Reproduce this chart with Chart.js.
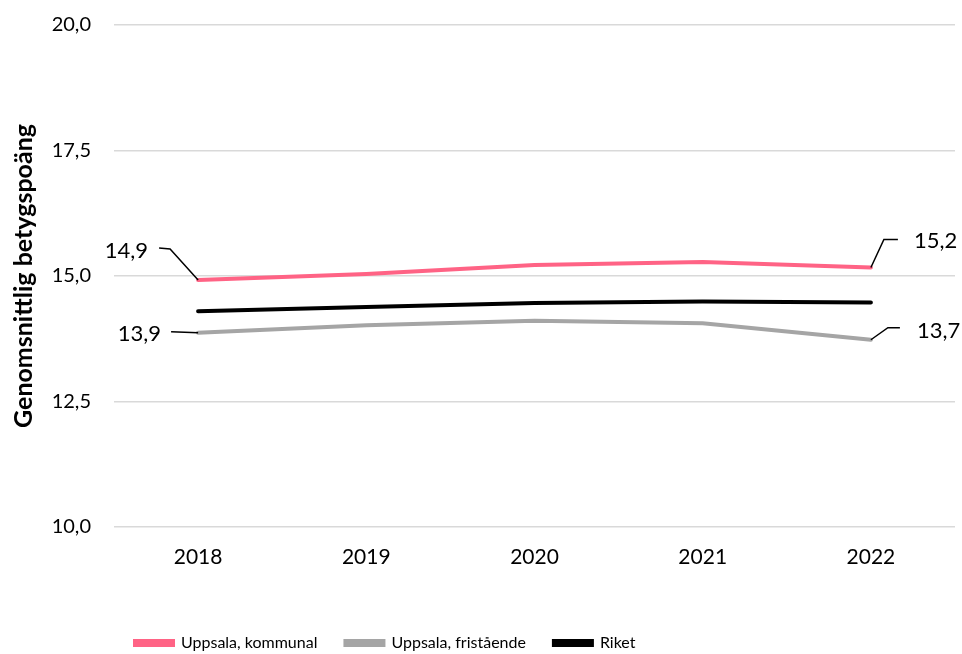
<!DOCTYPE html>
<html>
<head>
<meta charset="utf-8">
<script src="https://cdn.jsdelivr.net/npm/chart.js@4.4.0/dist/chart.umd.min.js"></script>
<style>
  html, body { margin: 0; padding: 0; background: #fff; }
  #wrap { width: 962px; height: 654px; }
</style>
</head>
<body>
<div id="wrap"><canvas id="chart"></canvas></div>
<script>
const years = ['2018', '2019', '2020', '2021', '2022'];
const kommunal = [14.92, 15.04, 15.22, 15.28, 15.17];
const fristaende = [13.87, 14.02, 14.11, 14.06, 13.73];
const riket = [14.30, 14.38, 14.46, 14.49, 14.47];
const seriesNames = ['Uppsala, kommunal', 'Uppsala, fristående', 'Riket'];
const seriesColors = ['#FF6385', '#A5A5A5', '#000000'];
const yTicks = [10, 12.5, 15, 17.5, 20];
const yTitle = 'Genomsnittlig betygspoäng';

// value labels: [datasetIndex, pointIndex]
const labelledPoints = [[0, 0], [1, 0], [0, 4], [1, 4]];

const FONT = 'Lato, "Open Sans", sans-serif';
const fmt = v => v.toFixed(1).replace('.', ',');

// leader line: point -> elbow -> end, then the text (offsets in px from the point)
const calloutStyle = [
    {ex: -28, ey: -31, lx: -39, ly: -32, tx: -50, ty: -29, align: 'right'},
    {ex: -27, ey: -1, lx: -27, ly: -1, tx: -37, ty: 1, align: 'right'},
    {ex: 13, ey: -28, lx: 27, ly: -28, tx: 43, ty: -27, align: 'left'},
    {ex: 17, ey: -12, lx: 29, ly: -12, tx: 46, ty: -9, align: 'left'}
];

const callouts = {
    id: 'callouts',
    afterDatasetsDraw(chart) {
        const ctx = chart.ctx;
        ctx.save();
        ctx.strokeStyle = '#000';
        ctx.lineWidth = 1.5;
        ctx.fillStyle = '#000';
        ctx.font = '22px ' + FONT;
        ctx.textBaseline = 'middle';
        labelledPoints.forEach(([ds, idx], i) => {
            const pt = chart.getDatasetMeta(ds).data[idx];
            const s = calloutStyle[i];
            ctx.beginPath();
            ctx.moveTo(pt.x, pt.y);
            ctx.lineTo(pt.x + s.ex, pt.y + s.ey);
            ctx.lineTo(pt.x + s.lx, pt.y + s.ly);
            ctx.stroke();
            ctx.textAlign = s.align;
            ctx.fillText(fmt(chart.data.datasets[ds].data[idx]), pt.x + s.tx, pt.y + s.ty);
        });
        ctx.restore();
    }
};

// move the legend row to where the original has it
const legendPlace = {
    id: 'legendPlace',
    afterLayout(chart) {
        const lg = chart.legend;
        lg.left = 135 - lg.options.labels.padding;
        lg.top += 7;
    }
};

const datasets = [kommunal, fristaende, riket].map((d, i) => ({
    label: seriesNames[i],
    data: d,
    borderColor: seriesColors[i],
    backgroundColor: seriesColors[i],
    borderWidth: 4,
    borderCapStyle: 'round',
    pointRadius: 0,
    tension: 0
}));

new Chart(document.getElementById('chart'), {
    type: 'line',
    data: {labels: years, datasets: datasets},
    options: {
        responsive: true,
        maintainAspectRatio: false,
        animation: false,
        layout: {padding: {top: 0, right: 7, left: 0, bottom: 0}},
        plugins: {
            legend: {
                position: 'bottom',
                align: 'start',
                labels: {
                    boxWidth: 38,
                    boxHeight: 4,
                    padding: 28,
                    color: '#000',
                    font: {family: FONT, size: 16}
                }
            },
            tooltip: {enabled: false}
        },
        scales: {
            x: {
                offset: true,
                grid: {display: false},
                border: {display: false},
                ticks: {color: '#000', padding: 10, font: {family: FONT, size: 21}},
                afterFit(s) { s.height = 73; }
            },
            y: {
                min: 10,
                max: 20,
                afterBuildTicks(s) { s.ticks = yTicks.map(v => ({value: v})); },
                afterFit(s) { s.width = 114; },
                grid: {color: '#D9D9D9', lineWidth: 1.5, drawTicks: true, tickLength: 10, tickColor: 'rgba(0,0,0,0)'},
                border: {display: false},
                ticks: {
                    color: '#000',
                    padding: 13,
                    font: {family: FONT, size: 20},
                    callback: v => fmt(v)
                },
                title: {
                    display: true,
                    text: yTitle,
                    color: '#000',
                    padding: {top: 9, bottom: 0},
                    font: {family: FONT, size: 25, weight: 'bold'}
                }
            }
        }
    },
    plugins: [callouts, legendPlace]
});
</script>
</body>
</html>
